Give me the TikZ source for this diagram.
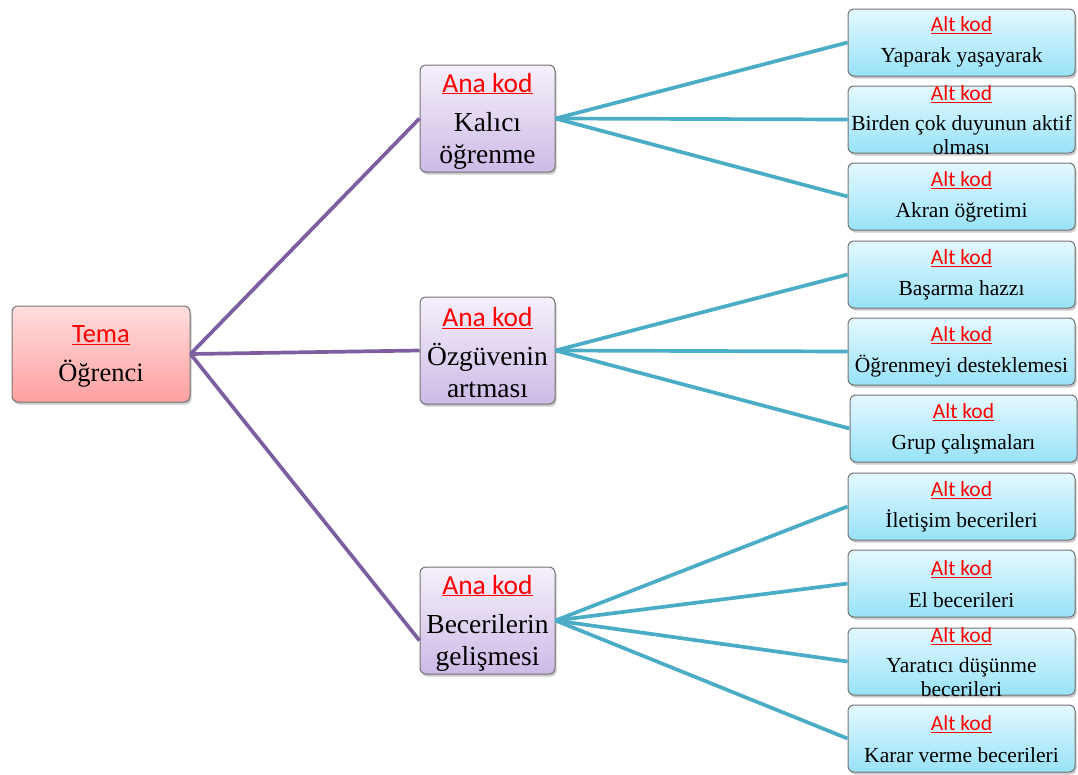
\documentclass[tikz,border=0pt]{standalone}
\usepackage{fontspec}
\setmainfont{Liberation Serif}
\newfontfamily\calib{Carlito}
\usetikzlibrary{shadows}
\definecolor{purp}{HTML}{7D5FA0}
\definecolor{cyn}{HTML}{4BACC6}
\definecolor{bord}{RGB}{115,115,115}
\definecolor{temaTop}{RGB}{255,222,222}
\definecolor{temaBot}{RGB}{255,160,160}
\definecolor{anaTop}{RGB}{246,240,251}
\definecolor{anaBot}{RGB}{204,186,230}
\definecolor{altTop}{RGB}{228,249,255}
\definecolor{altBot}{RGB}{152,226,248}
\newcommand{\kodlbl}[1]{{\calib\textcolor{red}{\underline{#1}}}}
\tikzset{
  box/.style={rounded corners=6pt, draw=bord, line width=1pt,
    drop shadow={shadow xshift=1.5pt, shadow yshift=-2.5pt, opacity=0.35, fill=black!60}},
  temabox/.style={box, top color=temaTop, bottom color=temaBot, minimum width=178pt, minimum height=96pt},
  anabox/.style={box, top color=anaTop, bottom color=anaBot, minimum width=135pt, minimum height=107pt},
  altbox/.style={box, top color=altTop, bottom color=altBot, minimum width=227pt, minimum height=67pt},
  lbl/.style={align=center, inner sep=0pt},
  temalbl/.style={lbl, font=\fontsize{26.5}{32}\selectfont},
  biglbl/.style={lbl, font=\fontsize{27.5}{32}\selectfont},
  smalllbl/.style={lbl, font=\fontsize{21.5}{23.5}\selectfont},
  purpline/.style={draw=purp, line width=3.7pt},
  cynline/.style={draw=cyn, line width=3.7pt}
}
\begin{document}
\begin{tikzpicture}[x=1pt,y=-1pt]
\useasboundingbox (0,0) rectangle (1078,774);
% boxes
\node[temabox] (tema) at (101,354) {};
\node[anabox] (ana1) at (487.5,118.5) {};
\node[anabox] (ana2) at (487.5,350.5) {};
\node[anabox] (ana3) at (487.5,620.5) {};
\node[altbox] (alt1) at (961.5,42.5) {};
\node[altbox] (alt2) at (961.5,119.5) {};
\node[altbox] (alt3) at (961.5,196.5) {};
\node[altbox] (alt4) at (961.5,274.5) {};
\node[altbox] (alt5) at (961.5,351.5) {};
\node[altbox] (alt6) at (963.5,428.5) {};
\node[altbox] (alt7) at (961.5,506.5) {};
\node[altbox] (alt8) at (961.5,583.5) {};
\node[altbox] (alt9) at (961.5,661.5) {};
\node[altbox] (alt10) at (961.5,738.5) {};
% texts
\node[temalbl] (tematxt) at (101,356) {\kodlbl{Tema}\\[7pt]Öğrenci};
\node[biglbl] (ana1txt) at (487.5,121) {\kodlbl{Ana kod}\\[7pt]Kalıcı\\öğrenme};
\node[biglbl] (ana2txt) at (487.5,353) {\kodlbl{Ana kod}\\[7pt]Özgüvenin\\artması};
\node[biglbl] (ana3txt) at (487.5,623) {\kodlbl{Ana kod}\\[7pt]Becerilerin\\gelişmesi};
\node[smalllbl] (alt1txt) at (961.5,42) {\kodlbl{Alt kod}\\[8pt]Yaparak yaşayarak};
\node[smalllbl] (alt2txt) at (961.5,120) {\kodlbl{Alt kod}\\[7pt]Birden çok duyunun aktif\\olması};
\node[smalllbl] (alt3txt) at (961.5,197) {\kodlbl{Alt kod}\\[8pt]Akran öğretimi};
\node[smalllbl] (alt4txt) at (961.5,275) {\kodlbl{Alt kod}\\[8pt]Başarma hazzı};
\node[smalllbl] (alt5txt) at (961.5,352) {\kodlbl{Alt kod}\\[8pt]Öğrenmeyi desteklemesi};
\node[smalllbl] (alt6txt) at (963.5,429) {\kodlbl{Alt kod}\\[8pt]Grup çalışmaları};
\node[smalllbl] (alt7txt) at (961.5,507) {\kodlbl{Alt kod}\\[8pt]İletişim becerileri};
\node[smalllbl] (alt8txt) at (961.5,584) {\kodlbl{Alt kod}\\[8pt]El becerileri};
\node[smalllbl] (alt9txt) at (961.5,662) {\kodlbl{Alt kod}\\[7pt]Yaratıcı düşünme\\becerileri};
\node[smalllbl] (alt10txt) at (961.5,739) {\kodlbl{Alt kod}\\[8pt]Karar verme becerileri};
% connectors
\draw[purpline] (tema.east) -- (ana1.west);
\draw[purpline] (tema.east) -- (ana2.west);
\draw[purpline] (tema.east) -- ([yshift=-20pt]ana3.west);
\foreach \i in {1,2,3} \draw[cynline] (ana1.east) -- (alt\i.west);
\foreach \i in {4,5,6} \draw[cynline] (ana2.east) -- (alt\i.west);
\foreach \i in {7,8,9,10} \draw[cynline] (ana3.east) -- (alt\i.west);
\end{tikzpicture}
\end{document}
